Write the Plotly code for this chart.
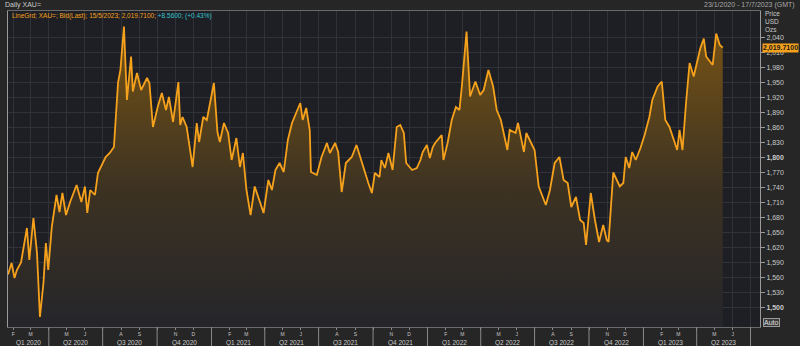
import plotly.graph_objects as go
import datetime as dt

# ---------------- data ----------------
dates = [
    "2020-01-23", "2020-01-29", "2020-02-03", "2020-02-07", "2020-02-14", "2020-02-24", "2020-02-28",
    "2020-03-06", "2020-03-12", "2020-03-17", "2020-03-23", "2020-03-27", "2020-03-31", "2020-04-06",
    "2020-04-14", "2020-04-19", "2020-04-24", "2020-04-30", "2020-05-07", "2020-05-18", "2020-05-26",
    "2020-06-01", "2020-06-05", "2020-06-10", "2020-06-18", "2020-06-23", "2020-07-06", "2020-07-13",
    "2020-07-20", "2020-07-27", "2020-07-31", "2020-08-06", "2020-08-11", "2020-08-18", "2020-08-21",
    "2020-08-28", "2020-09-04", "2020-09-14", "2020-09-18", "2020-09-24", "2020-10-02", "2020-10-09",
    "2020-10-16", "2020-10-21", "2020-10-28", "2020-11-06", "2020-11-09", "2020-11-13", "2020-11-20",
    "2020-11-30", "2020-12-07", "2020-12-11", "2020-12-18", "2020-12-24", "2021-01-05", "2021-01-11",
    "2021-01-15", "2021-01-22", "2021-01-29", "2021-02-04", "2021-02-12", "2021-02-18", "2021-02-23",
    "2021-03-01", "2021-03-08", "2021-03-15", "2021-03-30", "2021-04-07", "2021-04-13", "2021-04-19",
    "2021-04-26", "2021-05-03", "2021-05-10", "2021-05-17", "2021-05-31", "2021-06-04", "2021-06-10",
    "2021-06-16", "2021-06-18", "2021-06-28", "2021-07-06", "2021-07-15", "2021-07-20", "2021-07-29",
    "2021-08-03", "2021-08-09", "2021-08-16", "2021-08-26", "2021-09-03", "2021-09-09", "2021-09-17",
    "2021-09-23", "2021-09-29", "2021-10-04", "2021-10-12", "2021-10-15", "2021-10-21", "2021-10-27",
    "2021-11-03", "2021-11-10", "2021-11-16", "2021-11-22", "2021-11-26", "2021-12-06", "2021-12-14",
    "2021-12-20", "2021-12-24", "2021-12-31", "2022-01-05", "2022-01-10", "2022-01-14", "2022-01-25",
    "2022-01-28", "2022-02-04", "2022-02-11", "2022-02-18", "2022-02-24", "2022-02-28", "2022-03-08",
    "2022-03-14", "2022-03-23", "2022-03-31", "2022-04-06", "2022-04-14", "2022-04-22", "2022-04-28",
    "2022-05-05", "2022-05-16", "2022-05-20", "2022-05-30", "2022-06-03", "2022-06-13", "2022-06-17",
    "2022-07-01", "2022-07-08", "2022-07-20", "2022-07-27", "2022-08-04", "2022-08-12", "2022-08-19",
    "2022-08-26", "2022-09-01", "2022-09-09", "2022-09-16", "2022-09-22", "2022-09-26", "2022-10-04",
    "2022-10-11", "2022-10-18", "2022-10-25", "2022-10-31", "2022-11-03", "2022-11-11", "2022-11-22",
    "2022-11-28", "2022-12-02", "2022-12-08", "2022-12-13", "2022-12-19", "2022-12-27", "2023-01-03",
    "2023-01-11", "2023-01-16", "2023-01-25", "2023-02-01", "2023-02-07", "2023-02-14", "2023-02-20",
    "2023-02-27", "2023-03-03", "2023-03-08", "2023-03-14", "2023-03-20", "2023-03-27", "2023-03-31",
    "2023-04-07", "2023-04-13", "2023-04-17", "2023-04-26", "2023-04-28", "2023-05-04", "2023-05-10",
    "2023-05-15",
]
prices = [
    1566, 1589, 1559, 1575, 1590, 1659, 1595,
    1679, 1609, 1481, 1550, 1629, 1575, 1661,
    1725, 1691, 1729, 1685, 1711, 1745, 1711,
    1742, 1689, 1735, 1725, 1769, 1801, 1809,
    1821, 1950, 1975, 2062, 1915, 2002, 1932,
    1969, 1935, 1959, 1949, 1861, 1901, 1929,
    1895, 1921, 1871, 1951, 1865, 1881, 1861,
    1781, 1869, 1831, 1881, 1875, 1949, 1851,
    1831, 1869, 1849, 1795, 1839, 1781, 1809,
    1735, 1685, 1742, 1689, 1755, 1735, 1775,
    1789, 1771, 1835, 1869, 1909, 1875, 1899,
    1855, 1771, 1765, 1801, 1829, 1809, 1829,
    1811, 1731, 1789, 1801, 1825, 1801, 1771,
    1749, 1729, 1769, 1761, 1795, 1779, 1809,
    1775, 1861, 1865, 1849, 1789, 1775, 1779,
    1795, 1811, 1825, 1799, 1821, 1829, 1845,
    1795, 1829, 1875, 1901, 1895, 1941, 2052,
    1922, 1952, 1925, 1935, 1975, 1942, 1895,
    1875, 1815, 1855, 1849, 1869, 1811, 1849,
    1815, 1742, 1705, 1735, 1789, 1801, 1755,
    1749, 1701, 1721, 1675, 1669, 1625, 1729,
    1675, 1631, 1665, 1635, 1631, 1770, 1742,
    1749, 1801, 1779, 1811, 1795, 1819, 1845,
    1881, 1915, 1942, 1952, 1875, 1861, 1841,
    1815, 1855, 1815, 1909, 1989, 1962, 1982,
    2018, 2038, 2002, 1988, 1985, 2048, 2025,
    2019.71,
]

y_tick_vals = list(range(1500, 2041, 30))
y_tick_text = [("<b>%s</b>" % f"{v:,}") if v in (1500, 1800) else f"{v:,}" for v in y_tick_vals]

month_letters = ["J", "F", "M", "A", "M", "J", "J", "A", "S", "O", "N", "D"]
quarter_names = ["Q1 2020", "Q2 2020", "Q3 2020", "Q4 2020", "Q1 2021", "Q2 2021", "Q3 2021",
                 "Q4 2021", "Q1 2022", "Q2 2022", "Q3 2022", "Q4 2022", "Q1 2023", "Q2 2023"]

x_start, x_end = "2020-01-23", "2023-07-17"
last_label = "2,019.7100"
header_left = "Daily XAU="
header_right = "23/1/2020 - 17/7/2023 (GMT)"
legend_main = "LineGrd; XAU=; Bid(Last); 15/5/2023; 2,019.7100;"
legend_chg = "+8.5600; (+0.43%)"

# ---------------- derived axis helpers ----------------
month_starts, month_text = [], []
d = dt.date(2020, 2, 1)
while d <= dt.date(2023, 7, 1):
    month_starts.append(d.isoformat())
    month_text.append("" if d.month in (1, 4, 7, 10) else month_letters[d.month - 1])
    d = dt.date(d.year + (d.month // 12), d.month % 12 + 1, 1)

quarter_starts = [dt.date(2020 + i // 4, 3 * (i % 4) + 1, 1) for i in range(15)]

ORANGE = "#f5a11c"
GRID = "#313237"
TXT = "#c9c9c9"
FONT = "Liberation Sans"

fig = go.Figure()
fig.add_trace(go.Scatter(
    x=dates, y=prices, mode="lines",
    line=dict(color=ORANGE, width=1.8),
    fill="tozeroy",
    fillgradient=dict(type="vertical", start=1461, stop=2062,
                      colorscale=[[0, "#25252a"], [0.45, "#3c3222"], [1, "#765315"]]),
    hoverinfo="skip",
))

shapes = []
# stronger year grid lines
for yr in (2021, 2022, 2023):
    shapes.append(dict(type="line", xref="x", yref="paper", x0=f"{yr}-01-01", x1=f"{yr}-01-01",
                       y0=0, y1=1, line=dict(color="#44454b", width=1), layer="below"))
# quarter separators below the axis
for q in quarter_starts[1:]:
    shapes.append(dict(type="line", xref="x", yref="paper", x0=q.isoformat(), x1=q.isoformat(),
                       y0=0, y1=-0.062, line=dict(color="#8a8a8a", width=1)))

annotations = []
xs = dt.date.fromisoformat(x_start)
xe = dt.date.fromisoformat(x_end)
for i, name in enumerate(quarter_names):
    a = max(quarter_starts[i], xs)
    b = min(quarter_starts[i + 1], xe)
    mid = a + (b - a) / 2
    annotations.append(dict(text=name, x=mid.isoformat(), xref="x", y=-0.05, yref="paper",
                            showarrow=False, font=dict(size=6.5, color=TXT, family=FONT),
                            xanchor="center", yanchor="middle"))

annotations += [
    dict(text=header_left, x=0, xref="paper", xshift=-5, y=1.0, yref="paper", yshift=6,
         showarrow=False, xanchor="left", yanchor="middle",
         font=dict(size=7, color=TXT, family=FONT)),
    dict(text=header_right, x=1, xref="paper", xshift=37, y=1.0, yref="paper", yshift=6,
         showarrow=False, xanchor="right", yanchor="middle",
         font=dict(size=7, color="#a8a8a8", family=FONT)),
    dict(text=f"{legend_main} <span style='color:#35c4cf'>{legend_chg}</span>",
         x=0, xref="paper", xshift=2, y=1.0, yref="paper", yshift=-5,
         showarrow=False, xanchor="left", yanchor="middle",
         font=dict(size=6.5, color=ORANGE, family=FONT)),
    dict(text="Price", x=1, xref="paper", xshift=3, y=0.992, yref="paper",
         showarrow=False, xanchor="left", yanchor="middle", font=dict(size=6.5, color=TXT, family=FONT)),
    dict(text="USD", x=1, xref="paper", xshift=3, y=0.966, yref="paper",
         showarrow=False, xanchor="left", yanchor="middle", font=dict(size=6.5, color=TXT, family=FONT)),
    dict(text="Ozs", x=1, xref="paper", xshift=3, y=0.941, yref="paper",
         showarrow=False, xanchor="left", yanchor="middle", font=dict(size=6.5, color=TXT, family=FONT)),
    dict(text="<b>" + last_label + "</b>", x=1, xref="paper", xshift=2, y=prices[-1], yref="y",
         showarrow=False, xanchor="left", yanchor="middle", bgcolor=ORANGE, borderpad=0,
         font=dict(size=7, color="#1a1a1a", family=FONT)),
    dict(text="Auto", x=1, xref="paper", xshift=3, y=0.013, yref="paper",
         showarrow=False, xanchor="left", yanchor="middle", bgcolor="#3a3a3a",
         bordercolor="#9a9a9a", borderwidth=1, borderpad=0,
         font=dict(size=7, color="#e0e0e0", family=FONT)),
]

fig.update_layout(
    width=800, height=346,
    margin=dict(l=8, r=40, t=11, b=19),
    paper_bgcolor="#262626",
    plot_bgcolor="#1e1f24",
    showlegend=False,
    shapes=shapes,
    annotations=annotations,
    separators=".,",
    xaxis=dict(
        type="date", range=[x_start, x_end],
        tickvals=month_starts, ticktext=month_text,
        ticks="outside", ticklen=2, tickcolor="#8a8a8a",
        tickfont=dict(size=5, color=TXT, family=FONT),
        showgrid=True, gridcolor=GRID, gridwidth=1,
        showline=True, linecolor="#6a6a6a", linewidth=1, mirror=True,
        zeroline=False, fixedrange=True,
    ),
    yaxis=dict(
        side="right", range=[1461, 2093],
        tickvals=y_tick_vals, ticktext=y_tick_text,
        ticks="outside", ticklen=4, tickcolor="#9a9a9a",
        tickfont=dict(size=7, color=TXT, family=FONT),
        showgrid=True, gridcolor=GRID, gridwidth=1,
        showline=True, linecolor="#9a9a9a", linewidth=1, mirror=True,
        zeroline=False, fixedrange=True,
    ),
)

fig.write_html("out.html")
